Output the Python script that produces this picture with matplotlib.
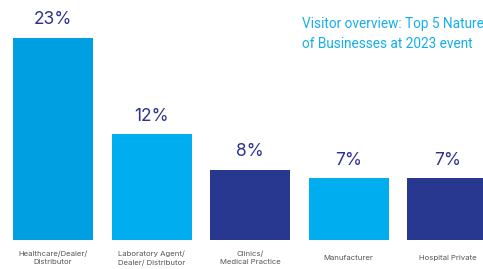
import numpy as np
import matplotlib
matplotlib.use("Agg")
import matplotlib.pyplot as plt

plt.rcParams['font.family'] = ['Inter', 'DejaVu Sans']

categories = ['Healthcare/Dealer/\nDistributor', 'Laboratory Agent/\nDealer/ Distributor',
              'Clinics/\nMedical Practice', 'Manufacturer', 'Hospital Private']
values = [23, 12, 8, 7, 7]
labels = ['23%', '12%', '8%', '7%', '7%']
colors = ['#009FE1', '#00AEEF', '#283891', '#00AEEF', '#283891']
title = 'Visitor overview: Top 5 Nature\nof Businesses at 2023 event'

W, H = 483, 269
fig = plt.figure(figsize=(W / 100, H / 100), dpi=100)
ax = fig.add_axes([0, 0, 1, 1])

step = 98.6     # px between bar centres
x0 = 53         # px of first centre
base = 29       # px of baseline from bottom
scale = 8.8     # px per percent

x = np.arange(len(values))
ax.bar(x, values, width=80 / step, color=colors)
ax.set_xlim(-x0 / step, (W - x0) / step)
ax.set_ylim(-base / scale, (H - base) / scale)
ax.axis('off')

for xi, v, lab in zip(x, values, labels):
    ax.annotate(lab, (xi, v), xytext=(0, 7), textcoords='offset points',
                ha='center', va='bottom', fontsize=12.5, color='#2E3192')

for xi, cat in zip(x, categories):
    ax.text(xi, -18 / scale, cat, ha='center', va='center', fontsize=5.6,
            color='#555555', linespacing=1.5)

t = fig.text(302 / W, 1 - 34 / H, title, ha='left', va='center', fontsize=12,
             color='#16AEEA', linespacing=1.6, family='Roboto')
# shrink title to fit the space right of the first bars
fig.canvas.draw()
w = t.get_window_extent().width
t.set_fontsize(12 * 182 / w)

fig.savefig('out.png', dpi=100)
